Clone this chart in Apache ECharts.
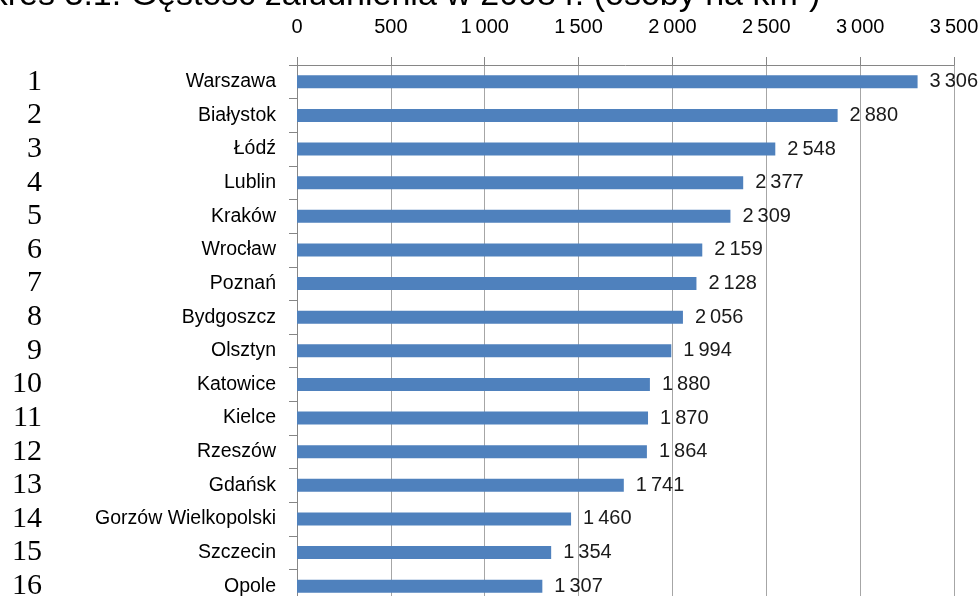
<!DOCTYPE html>
<html>
<head>
<meta charset="utf-8">
<script src="https://cdn.jsdelivr.net/npm/echarts@6/dist/echarts.min.js"></script>
<style>
html,body{margin:0;padding:0;background:#fff;}
#chart{width:979px;height:596px;}
</style>
</head>
<body>
<div id="chart"></div>
<script>
const titleText = 'Wykres 3.1. Gęstość zaludnienia w 2008 r. (osoby na km²)';
const ranks = ['1','2','3','4','5','6','7','8','9','10','11','12','13','14','15','16'];
const cities = ['Warszawa','Białystok','Łódź','Lublin','Kraków','Wrocław','Poznań','Bydgoszcz','Olsztyn','Katowice','Kielce','Rzeszów','Gdańsk','Gorzów Wielkopolski','Szczecin','Opole'];
const density = [3306, 2880, 2548, 2377, 2309, 2159, 2128, 2056, 1994, 1880, 1870, 1864, 1741, 1460, 1354, 1307];
const axisMin = 0, axisMax = 3500, axisStep = 500;

function fmt(v){ return String(v).replace(/\B(?=(\d{3})+(?!\d))/g, '\u2009'); }

const chart = echarts.init(document.getElementById('chart'));
chart.setOption({
  animation: false,
  backgroundColor: '#ffffff',
  graphic: [{
    type: 'text', x: -58, y: -4,
    style: { text: titleText, font: '34px "Liberation Sans", Arial, sans-serif', fill: '#000', textVerticalAlign: 'middle', verticalAlign: 'middle' }
  }],
  grid: { left: 297, top: 65, width: 657, height: 538, containLabel: false, outerBoundsMode: 'none' },
  xAxis: {
    type: 'value', position: 'top', min: axisMin, max: axisMax, interval: axisStep,
    axisLine: { show: true, lineStyle: { color: '#868686', width: 1 } },
    axisTick: { show: true, length: 8, lineStyle: { color: '#868686' } },
    splitLine: { show: true, lineStyle: { color: '#a6a6a6', width: 1 } },
    axisLabel: { margin: 28, fontSize: 20, fontFamily: '"Liberation Sans", Arial, sans-serif', color: '#000', formatter: fmt }
  },
  yAxis: [{
    type: 'category', data: cities, inverse: true,
    axisLine: { show: true, lineStyle: { color: '#868686', width: 1 } },
    axisTick: { show: true, length: 8, lineStyle: { color: '#868686' } },
    axisLabel: { interval: 0, margin: 21, fontSize: 19.5, fontFamily: '"Liberation Sans", Arial, sans-serif', color: '#000' }
  }, {
    type: 'category', data: ranks, inverse: true, position: 'left',
    axisLine: { show: false }, axisTick: { show: false }, splitLine: { show: false },
    axisLabel: { interval: 0, margin: 255, fontSize: 30, fontFamily: '"Liberation Serif", "Times New Roman", serif', color: '#000', align: 'right' }
  }],
  series: [{
    type: 'bar', data: density, yAxisIndex: 0, barWidth: 13,
    itemStyle: { color: '#4f81bd' },
    label: { show: true, position: 'right', distance: 12, fontSize: 20, fontFamily: '"Liberation Sans", Arial, sans-serif', color: '#1a1a1a', formatter: p => fmt(p.value) }
  }]
});
</script>
</body>
</html>
